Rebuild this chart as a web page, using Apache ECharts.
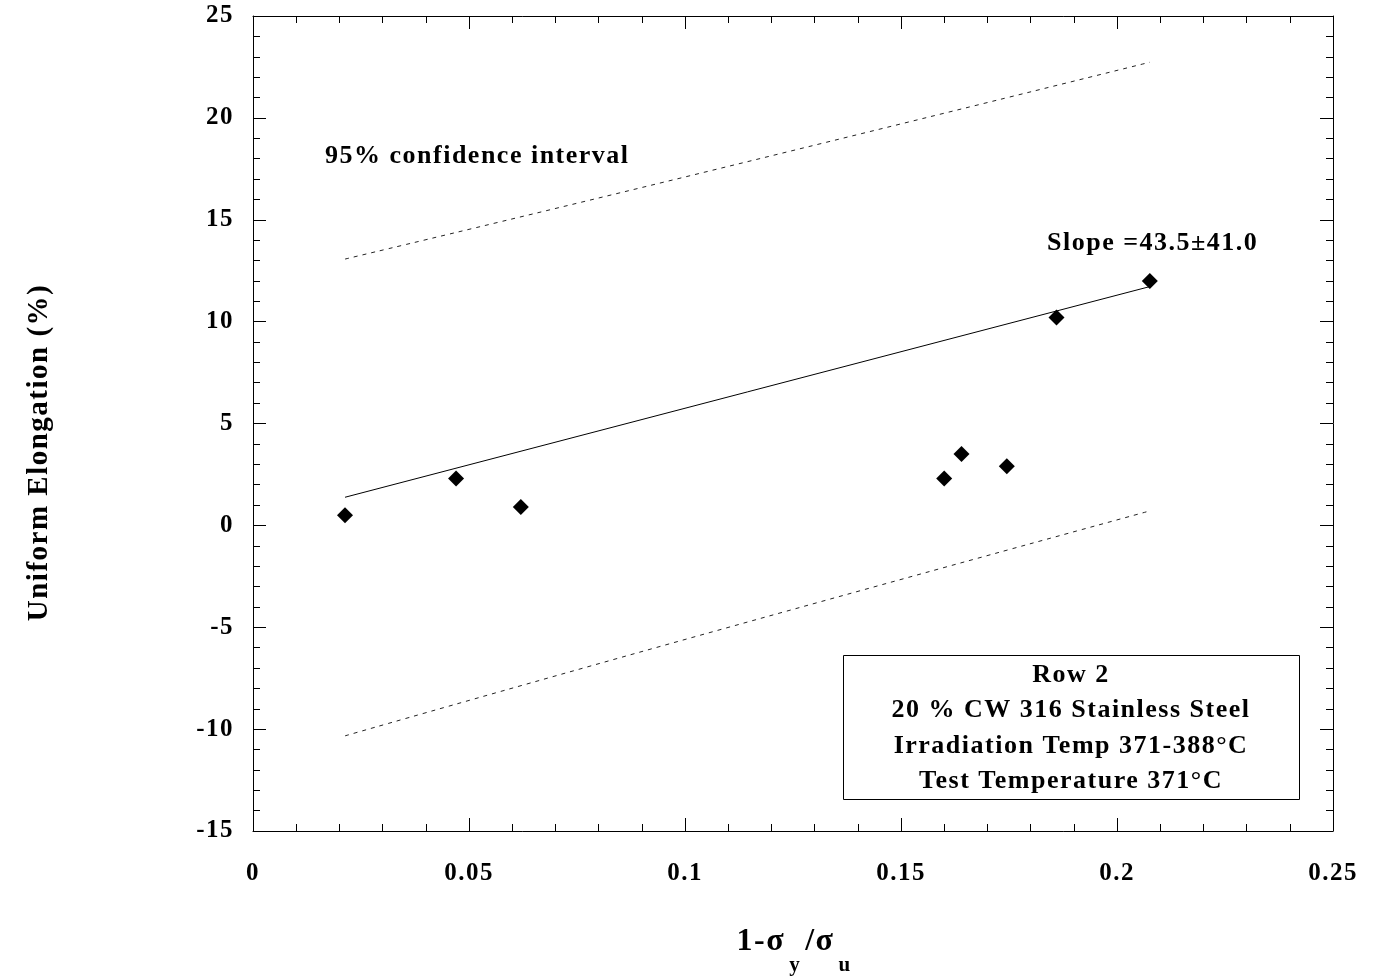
<!DOCTYPE html>
<html>
<head>
<meta charset="utf-8">
<script src="https://cdn.jsdelivr.net/npm/echarts@6/dist/echarts.min.js"></script>
<style>
  html, body { margin: 0; padding: 0; background: #fff; }
  #show_picture { width: 1377px; height: 977px; }
</style>
</head>
<body>
<div id="show_picture"></div>
<script>
// measured points: 1 - sy/su vs uniform elongation (%)
const ratio = [0.0213, 0.047, 0.062, 0.160, 0.164, 0.1745, 0.186, 0.2076];
const elong = [0.5, 2.3, 0.9, 2.3, 3.5, 2.9, 10.2, 12.0];

// least squares line and 95% band, read at the ends and middle
const fitX = [0.0213, 0.2076];
const fitY = [1.38, 11.72];
const bandX = [0.0213, 0.1, 0.2076];
const upperY = [13.07, 17.1, 22.73];
const lowerY = [-10.33, -5.6, 0.71];

const xTicks = [0, 0.05, 0.1, 0.15, 0.2, 0.25];
const yTicks = [-15, -10, -5, 0, 5, 10, 15, 20, 25];

const boxLines = ['Row 2', '20 % CW 316 Stainless Steel', 'Irradiation Temp 371-388°C', 'Test Temperature 371°C'];

const pair = (xs, ys) => xs.map((x, i) => [x, ys[i]]);

// old plot output uses a slightly spaced out bold Times, give the canvas a bit of tracking
const origGetContext = HTMLCanvasElement.prototype.getContext;
HTMLCanvasElement.prototype.getContext = function (type, opts) {
    const ctx = origGetContext.call(this, type, opts);
    if (ctx && type === '2d' && 'letterSpacing' in ctx) ctx.letterSpacing = '1.5px';
    return ctx;
};

let myChart = echarts.init(document.getElementById('show_picture'));
const serif = '"Liberation Serif", "Times New Roman", serif';

function axisBase(showLabel) {
    return {
        axisLine: { show: true, onZero: false, lineStyle: { color: '#000', width: 1 } },
        axisTick: { show: true, inside: true, length: 13, lineStyle: { color: '#000' } },
        minorTick: { show: true, splitNumber: 5, length: 7, lineStyle: { color: '#000' } },
        splitLine: { show: false },
        minorSplitLine: { show: false },
        axisLabel: {
            show: showLabel,
            color: '#000',
            fontFamily: serif,
            fontWeight: 'bold',
            fontSize: 25
        }
    };
}

let option = {
    animation: false,
    backgroundColor: '#fff',
    textStyle: { fontFamily: serif },
    grid: { left: 253, top: 16, width: 1080, height: 815, outerBoundsMode: 'none', containLabel: false },
    xAxis: [
        Object.assign(axisBase(true), {
            type: 'value', position: 'bottom',
            min: xTicks[0], max: xTicks[xTicks.length - 1], interval: 0.05,
            axisLabel: Object.assign(axisBase(true).axisLabel, { margin: 29 }),
            name: '{a|1-σ}{s|y}{a|/σ}{s|u}{p| }',
            nameLocation: 'middle',
            nameGap: 94,
            nameTextStyle: {
                padding: [0, 0, 0, 8],
                rich: {
                    a: { fontFamily: serif, fontWeight: 'bold', fontSize: 32, color: '#000', lineHeight: 32, verticalAlign: 'top' },
                    s: { fontFamily: serif, fontWeight: 'bold', fontSize: 21, color: '#000', lineHeight: 22, verticalAlign: 'bottom', padding: [0, 4, 0, 4] },
                    p: { fontSize: 1, lineHeight: 52 }
                }
            }
        }),
        Object.assign(axisBase(false), {
            type: 'value', position: 'top',
            min: xTicks[0], max: xTicks[xTicks.length - 1], interval: 0.05
        })
    ],
    yAxis: [
        Object.assign(axisBase(true), {
            type: 'value', position: 'left',
            min: yTicks[0], max: yTicks[yTicks.length - 1], interval: 5,
            axisLabel: Object.assign(axisBase(true).axisLabel, { margin: 19 }),
            name: 'Uniform Elongation (%)',
            nameLocation: 'middle',
            nameGap: 198,
            nameTextStyle: { fontFamily: serif, fontWeight: 'bold', fontSize: 29, color: '#000', padding: [0, 58, 0, 0] }
        }),
        Object.assign(axisBase(false), {
            type: 'value', position: 'right',
            min: yTicks[0], max: yTicks[yTicks.length - 1], interval: 5
        })
    ],
    graphic: [
        {
            type: 'text', left: 325, top: 143,
            style: { text: '95% confidence interval', font: 'bold 26px ' + serif, fill: '#000' }
        },
        {
            type: 'text', left: 1047, top: 230,
            style: { text: 'Slope =43.5±41.0', font: 'bold 26px ' + serif, fill: '#000' }
        },
        {
            type: 'rect', left: 843, top: 655,
            shape: { width: 456, height: 144 },
            style: { fill: '#fff', stroke: '#000', lineWidth: 1 }
        }
    ].concat(boxLines.map((t, i) => ({
        type: 'text', x: 1071, y: 675 + i * 35.5,
        style: {
            text: t, font: 'bold 26px ' + serif, fill: '#000',
            align: 'center', verticalAlign: 'middle'
        }
    }))),
    series: [
        {
            name: 'upper 95%', type: 'line', data: pair(bandX, upperY),
            showSymbol: false, smooth: true,
            lineStyle: { color: '#222', width: 1, type: [4, 5] }
        },
        {
            name: 'lower 95%', type: 'line', data: pair(bandX, lowerY),
            showSymbol: false, smooth: true,
            lineStyle: { color: '#222', width: 1, type: [4, 5] }
        },
        {
            name: 'fit', type: 'line', data: pair(fitX, fitY),
            showSymbol: false,
            lineStyle: { color: '#000', width: 1 }
        },
        {
            name: 'data', type: 'scatter', data: pair(ratio, elong),
            symbol: 'diamond', symbolSize: 16,
            itemStyle: { color: '#000', opacity: 1 },
            z: 5
        }
    ]
};

option && myChart.setOption(option);
</script>
</body>
</html>
